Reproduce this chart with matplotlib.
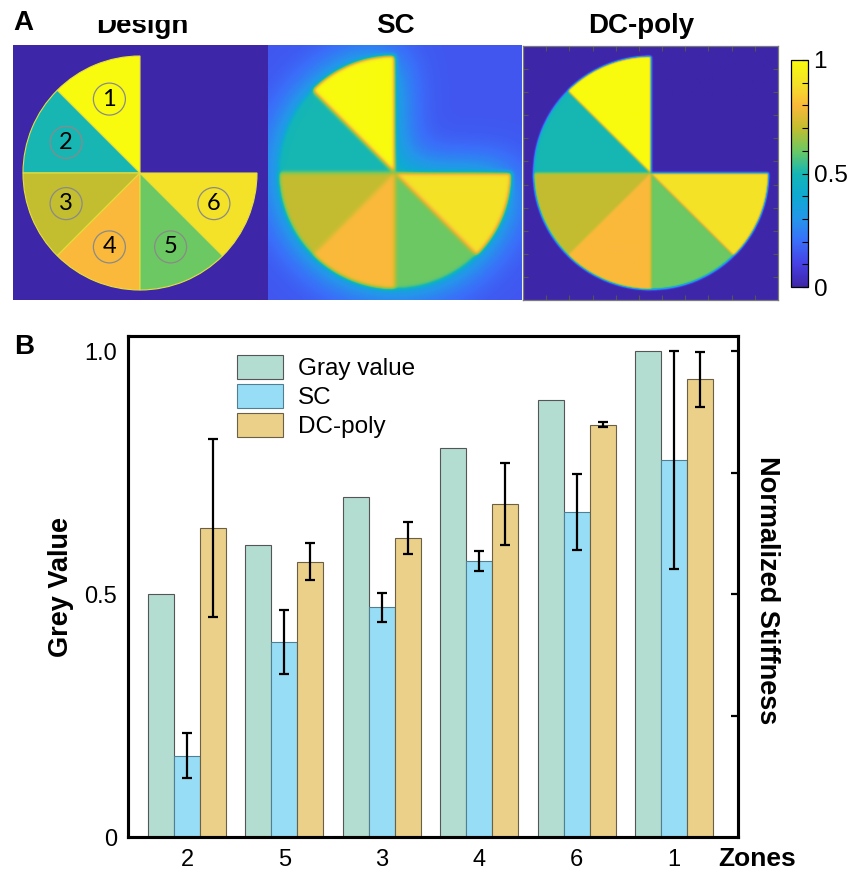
import numpy as np
import matplotlib
matplotlib.use("Agg")
import matplotlib.pyplot as plt
from matplotlib.colors import LinearSegmentedColormap, Normalize
from matplotlib.patches import Wedge, Circle, Patch
from matplotlib.transforms import Bbox, TransformedBbox

plt.rcParams['font.family'] = ['Liberation Sans', 'DejaVu Sans']

# ---- bar chart data (zones ordered by designed grey value) ----
zones = ['2', '5', '3', '4', '6', '1']
gray_value = [0.50, 0.60, 0.70, 0.80, 0.90, 1.00]
sc_mean = [0.167, 0.401, 0.473, 0.568, 0.669, 0.776]
sc_err = [0.046, 0.066, 0.030, 0.020, 0.078, 0.225]
dc_mean = [0.636, 0.566, 0.615, 0.685, 0.848, 0.942]
dc_err = [0.183, 0.038, 0.033, 0.085, 0.005, 0.057]
series_names = ['Gray value', 'SC', 'DC-poly']

# ---- panel titles ----
panel_titles = ['Design', 'SC', 'DC-poly']

# grey value of each sector, zone 1..6 going counter-clockwise from the top
zone_numbers = [1, 2, 3, 4, 5, 6]
design_value = [gray_value[zones.index(str(z))] for z in zone_numbers]

# parula-like colour map
parula = LinearSegmentedColormap.from_list('parula_like', [
    (0.00, '#3E26A8'), (0.10, '#4640E4'), (0.20, '#3A6EFA'),
    (0.30, '#2496EA'), (0.40, '#0EAAD3'), (0.50, '#15B6B5'),
    (0.60, '#6CC863'), (0.70, '#C2BD30'), (0.80, '#FAB93A'),
    (0.90, '#F3E227'), (1.00, '#F9FB0E')])
norm = Normalize(0, 1)


def sector_map(n, cx, cy, radius, vals, ss=4):
    m = n * ss
    c = (np.arange(m) + 0.5) / ss
    X, Y = np.meshgrid(c - cx, cy - c)
    r = np.hypot(X, Y)
    th = np.degrees(np.arctan2(Y, X)) % 360
    k = np.clip(np.floor((th - 90) / 45).astype(int), 0, 5)
    inside = (r <= radius) & (th >= 90)
    field = np.zeros_like(r)
    field[inside] = np.asarray(vals)[k[inside]]
    mask = inside.astype(float)
    field = field.reshape(n, ss, n, ss).mean(axis=(1, 3))
    mask = mask.reshape(n, ss, n, ss).mean(axis=(1, 3))
    return field, mask


def gaussian_blur(a, sigma):
    rad = int(3 * sigma) + 1
    k = np.exp(-0.5 * (np.arange(-rad, rad + 1) / sigma) ** 2)
    k /= k.sum()
    p = np.pad(a, rad, mode='edge')
    tmp = np.apply_along_axis(lambda v: np.convolve(v, k, mode='valid'), 1, p)
    return np.apply_along_axis(lambda v: np.convolve(v, k, mode='valid'), 0, tmp)


N = 255
R = 117.0
field, mask = sector_map(N, 127.5, 127.5, R, design_value)
# SC: glowing background outside the printed region, softened edges
halo = 0.15 + 0.42 * gaussian_blur(mask, 22)
sc_img = gaussian_blur(field * mask + halo * (1 - mask), 2.0)
dc_img = gaussian_blur(field, 0.9)

W, H = 849, 876
fig = plt.figure(figsize=(W / 100, H / 100), dpi=100)


def px_axes(x0, y0, x1, y1):
    return fig.add_axes([x0 / W, 1 - y1 / H, (x1 - x0) / W, (y1 - y0) / H])


# ---- Design panel ----
axd = px_axes(13, 45, 268, 300)
axd.set_xlim(0, 255)
axd.set_ylim(0, 255)
axd.set_facecolor(parula(0.0))
axd.set_xticks([])
axd.set_yticks([])
for s in axd.spines.values():
    s.set_visible(False)
cx, cy = 127, 127
for i, (z, v) in enumerate(zip(zone_numbers, design_value)):
    t1 = 90 + 45 * i
    axd.add_patch(Wedge((cx, cy), R, t1, t1 + 45, facecolor=parula(norm(v)),
                        edgecolor='#E6DE3C', lw=0.8))
for i, z in enumerate(zone_numbers):
    ang = np.radians(90 + 45 * i + 22.5)
    lx, ly = cx + 80 * np.cos(ang), cy + 80 * np.sin(ang)
    axd.add_patch(Circle((lx, ly), 16, fill=False, ec='#8a8a8a', lw=0.9))
    axd.text(lx, ly, str(z), ha='center', va='center', fontsize=17,
             family=['Lato', 'DejaVu Sans'], color='black')

# ---- SC panel ----
axs = px_axes(268, 45, 522, 300)
axs.imshow(sc_img, cmap=parula, norm=norm, aspect='auto', interpolation='bilinear')
axs.set_xticks([])
axs.set_yticks([])
for s in axs.spines.values():
    s.set_visible(False)

# ---- DC-poly panel ----
axp = px_axes(523, 46, 778, 300)
axp.imshow(dc_img, cmap=parula, norm=norm, aspect='auto',
           interpolation='bilinear', extent=(0, 11, 11, 0))
axp.set_xticks(range(1, 11))
axp.set_yticks(range(1, 11))
axp.tick_params(direction='in', length=3.5, width=0.8, color='#555555',
                top=True, right=True, labelbottom=False, labelleft=False)
for s in axp.spines.values():
    s.set_color('#7a7a7a')
    s.set_linewidth(0.9)

# ---- colour bar ----
cax = px_axes(791, 60, 808, 287)
sm = matplotlib.cm.ScalarMappable(norm=norm, cmap=parula)
cb = fig.colorbar(sm, cax=cax, ticks=[0, 0.5, 1])
cb.ax.set_yticklabels(['0', '0.5', '1'])
cb.ax.yaxis.set_minor_locator(matplotlib.ticker.MultipleLocator(0.1))
cb.ax.tick_params(which='both', direction='in', length=4, width=0.8,
                  labelsize=17.5, pad=4)
cb.outline.set_linewidth(0.9)

# ---- panel titles ----
title_x = [142, 395, 641]
for tx, name in zip(title_x, panel_titles):
    t = fig.text(tx / W, 1 - 33 / H, name, ha='center', va='baseline',
                 fontsize=20, fontweight='bold')
    if name == 'Design':
        t.set_clip_box(TransformedBbox(Bbox([[0, 0], [1, 1 - 20 / H]]),
                                       fig.transFigure))
        t.set_clip_on(True)

fig.text(13 / W, 1 - 23 / H, 'A', ha='left', va='center', fontsize=20,
         fontweight='bold')
fig.text(14 / W, 1 - 347 / H, 'B', ha='left', va='center', fontsize=20,
         fontweight='bold')

# ---- bar chart ----
ax = px_axes(128, 336, 738, 837)
x = np.arange(len(zones))
bw = 0.267
colors = ['#B4DDD2', '#97DDF6', '#EBD08A']
edges = ['#555555', '#4F7F90', '#6B5F45']
ax.bar(x - bw, gray_value, bw, color=colors[0], edgecolor=edges[0], lw=0.8,
       label=series_names[0])
ax.bar(x, sc_mean, bw, color=colors[1], edgecolor=edges[1], lw=0.8,
       label=series_names[1])
ax.bar(x + bw, dc_mean, bw, color=colors[2], edgecolor=edges[2], lw=0.8,
       label=series_names[2])
ekw = dict(fmt='none', ecolor='black', elinewidth=1.6, capsize=3.5,
           capthick=1.6, zorder=5)
ax.errorbar(x, sc_mean, yerr=sc_err, **ekw)
ax.errorbar(x + bw, dc_mean, yerr=dc_err, **ekw)

ax.set_xlim(-0.606, 5.657)
ax.set_ylim(0, 1.031)
ax.set_xticks(x)
ax.set_xticklabels(zones)
ax.set_yticks([0, 0.5, 1.0])
ax.set_yticklabels(['0', '0.5', '1.0'])
ax.tick_params(axis='x', length=0, labelsize=17, pad=9)
ax.tick_params(axis='y', length=0, labelsize=17, pad=8)
for s in ax.spines.values():
    s.set_linewidth(2.2)

ax2 = ax.twinx()
ax2.set_ylim(0, 1.031)
ax2.set_yticks([0.25, 0.5, 0.75, 1.0])
ax2.set_yticklabels([])
ax2.tick_params(axis='y', direction='in', length=5, width=1.6)
for s in ax2.spines.values():
    s.set_linewidth(2.2)

handles = [Patch(facecolor=c, edgecolor=e, lw=0.8) for c, e in zip(colors, edges)]
ax.legend(handles, series_names, loc='upper left', bbox_to_anchor=(0.179, 0.962),
          frameon=False, fontsize=17.5, handlelength=1.9, handleheight=1.15,
          labelspacing=0.15, handletextpad=0.6, borderpad=0, borderaxespad=0)

fig.text(61 / W, 1 - 587 / H, 'Grey Value', rotation=90, ha='center',
         va='center', fontsize=19.5, fontweight='bold')
fig.text(767 / W, 1 - 590 / H, 'Normalized Stiffness', rotation=270,
         ha='center', va='center', fontsize=19.5, fontweight='bold')
fig.text(757 / W, 1 - 859 / H, 'Zones', ha='center', va='center',
         fontsize=19, fontweight='bold')

fig.savefig('out.png', dpi=100)
